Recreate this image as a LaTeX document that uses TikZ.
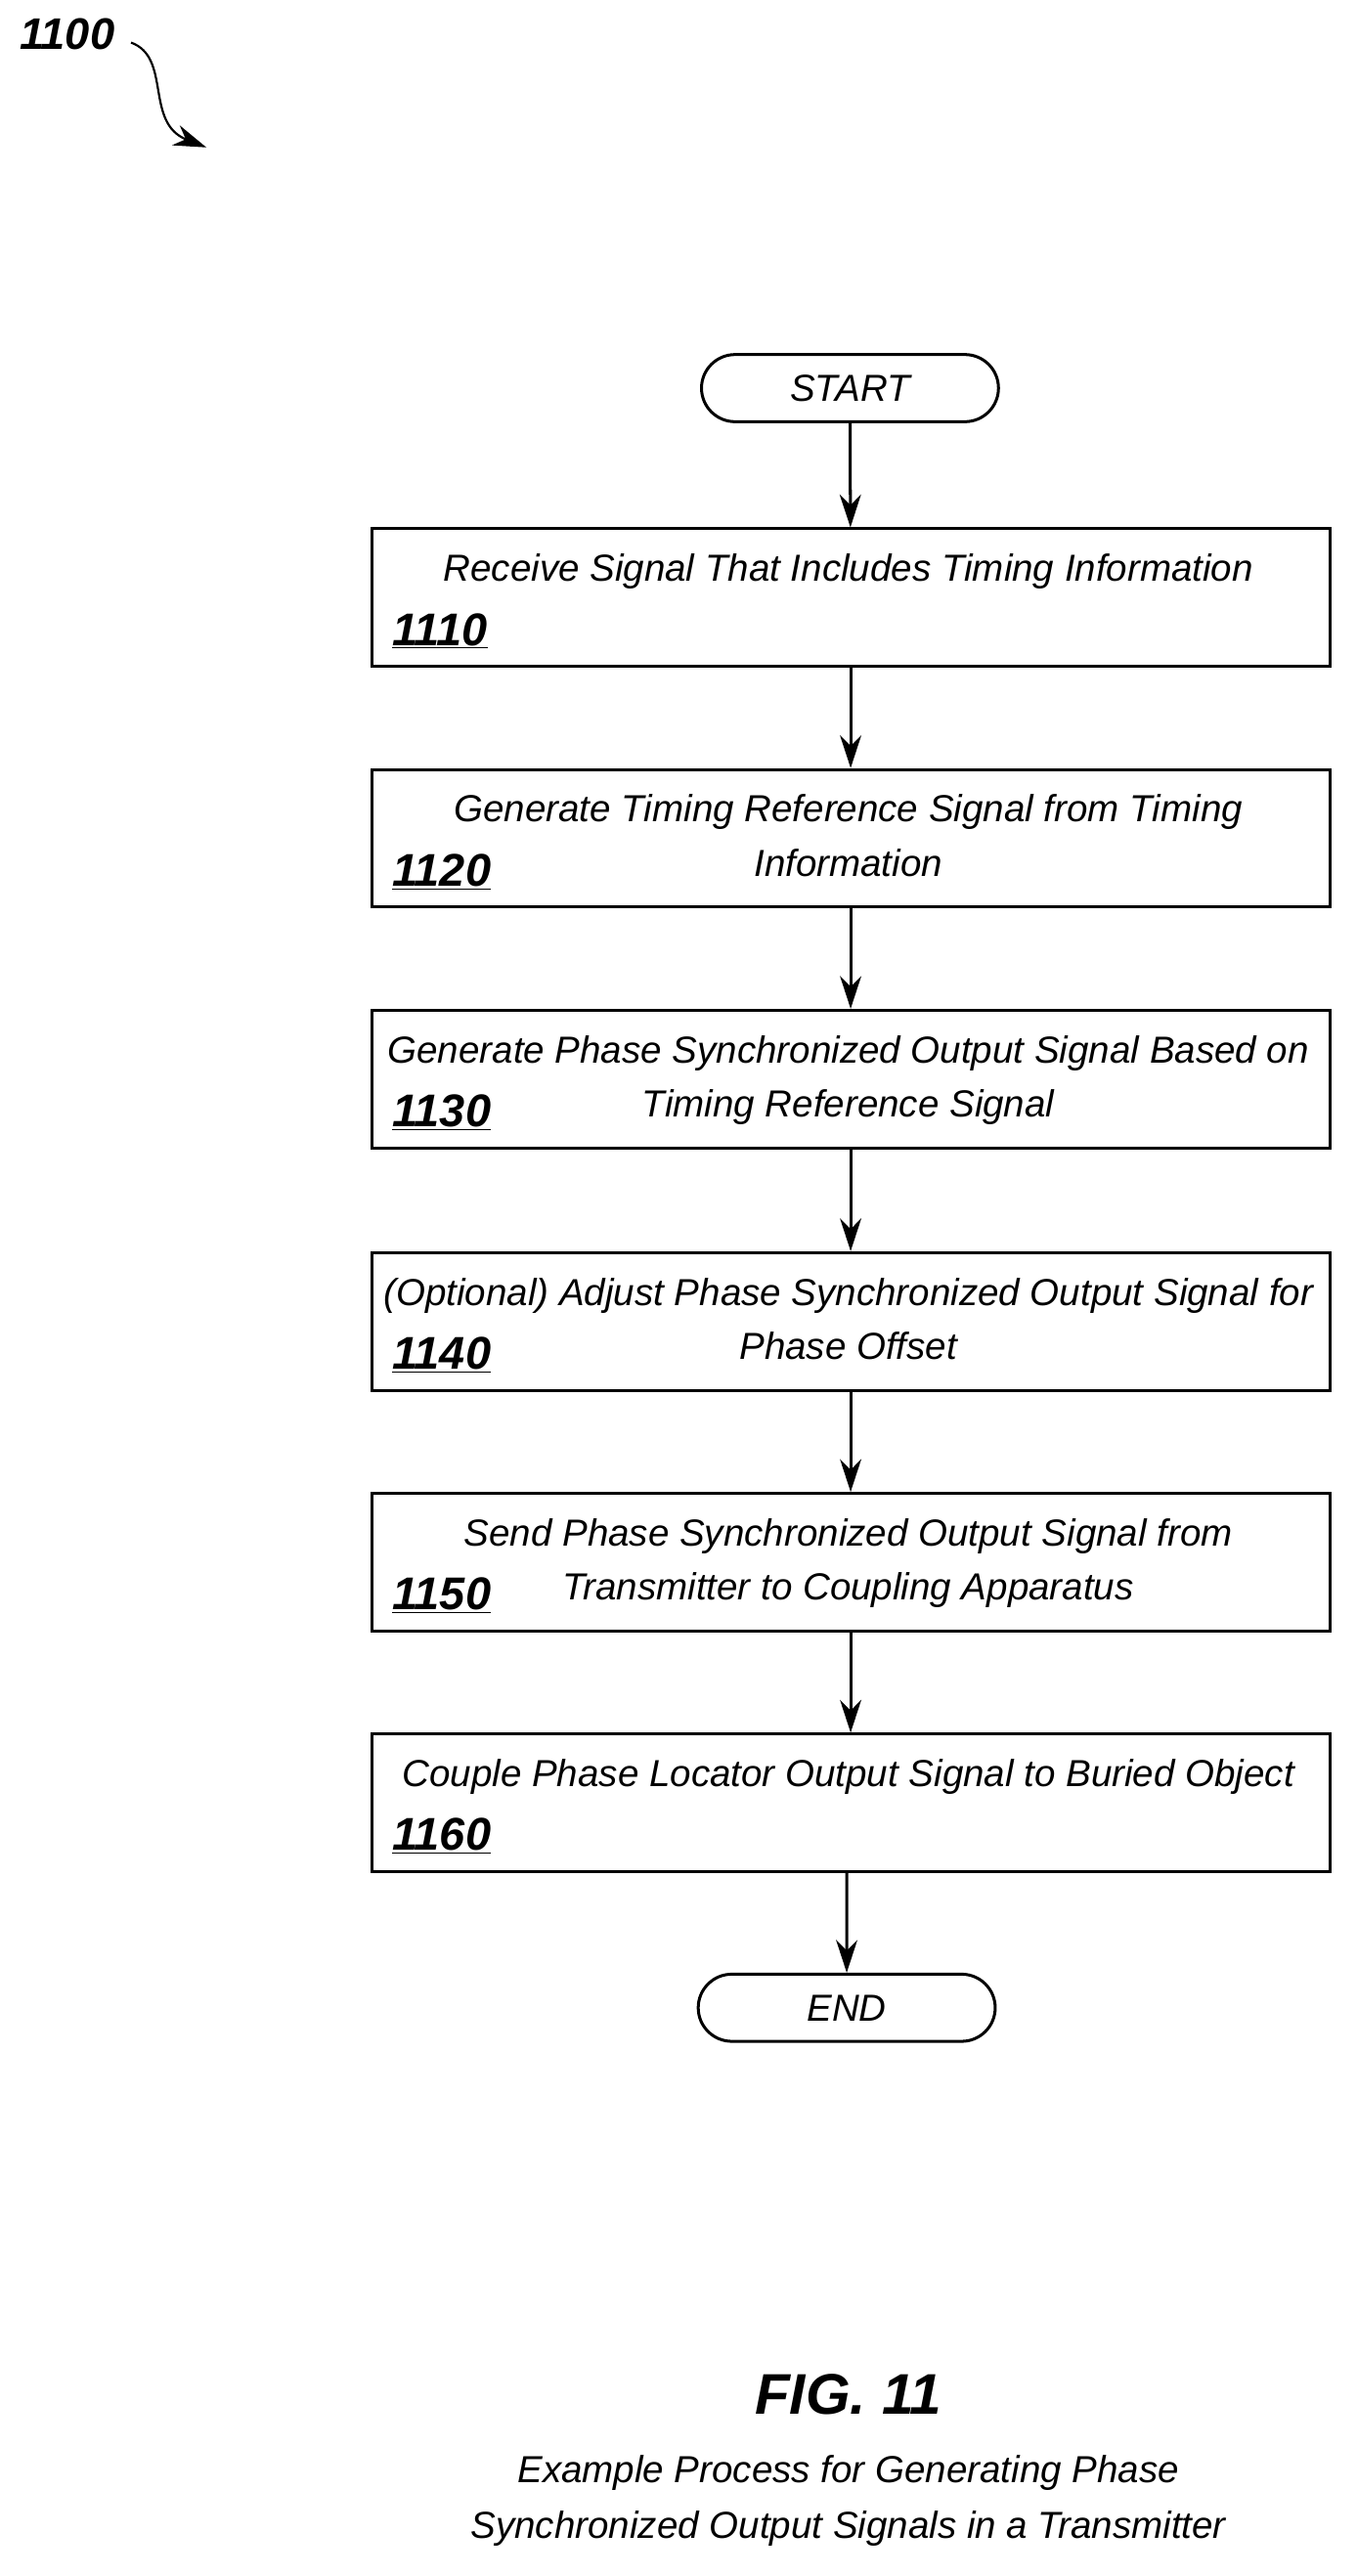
\documentclass[tikz,border=0pt]{standalone}
\usepackage{fontspec}
\setmainfont{Liberation Sans}
\usetikzlibrary{arrows.meta,shapes.misc}
\begin{document}
\begin{tikzpicture}[x=1pt,y=-1pt,
  box/.style={draw,line width=1.8pt,minimum width=585pt,minimum height=84pt,anchor=north west,inner sep=0pt},
  term/.style={draw,line width=1.8pt,rounded rectangle,minimum width=188pt,minimum height=41pt,font=\fontsize{23}{25}\selectfont\itshape},
  txt/.style={font=\fontsize{23}{33}\selectfont\itshape,align=center},
  num/.style={font=\fontsize{28}{30}\selectfont\bfseries\itshape,anchor=base west},
  arr/.style={-{Stealth[length=20pt,width=13pt]},line width=1.8pt}]
\useasboundingbox (0,0) rectangle (828,1573);
\node[font=\fontsize{27}{30}\selectfont\bfseries\itshape] (lbl) at (41,21) {1100};
\coordinate (lblend) at (126,90);
\draw[arr,line width=1.3pt] (80,26) .. controls (105,35) and (88,75) .. (lblend);
\node[term] (start) at (519,237) {START};
\node[term] (end) at (517,1226) {END};
\foreach \n/\y/\a/\b in {
 1/322/{Receive Signal That Includes Timing Information}/{},
 2/469/{Generate Timing Reference Signal from Timing}/{Information},
 3/616/{Generate Phase Synchronized Output Signal Based on}/{Timing Reference Signal},
 4/764/{(Optional) Adjust Phase Synchronized Output Signal for}/{Phase Offset},
 5/911/{Send Phase Synchronized Output Signal from}/{Transmitter to Coupling Apparatus},
 6/1058/{Couple Phase Locator Output Signal to Buried Object}/{}}{
  \node[box] (b\n) at (226,\y) {};
  \node[txt,anchor=base] (t\n a) at (518,\y+33) {\a};
  \node[txt,anchor=base] (t\n b) at (518,\y+66) {\b};
  \node[num] (n\n) at (236,\y+72) {\underline{11\n0}};
}
\draw[arr] (start) -- (b1);
\draw[arr] (b1) -- (b2);
\draw[arr] (b2) -- (b3);
\draw[arr] (b3) -- (b4);
\draw[arr] (b4) -- (b5);
\draw[arr] (b5) -- (b6);
\draw[arr] (b6.south -| end) -- (end);
\node[font=\fontsize{35}{38}\selectfont\bfseries\itshape] (fig) at (518,1462) {FIG. 11};
\node[txt,font=\fontsize{23}{34}\selectfont\itshape] (cap) at (518,1527) {Example Process for Generating Phase\\Synchronized Output Signals in a Transmitter};
\end{tikzpicture}
\end{document}
